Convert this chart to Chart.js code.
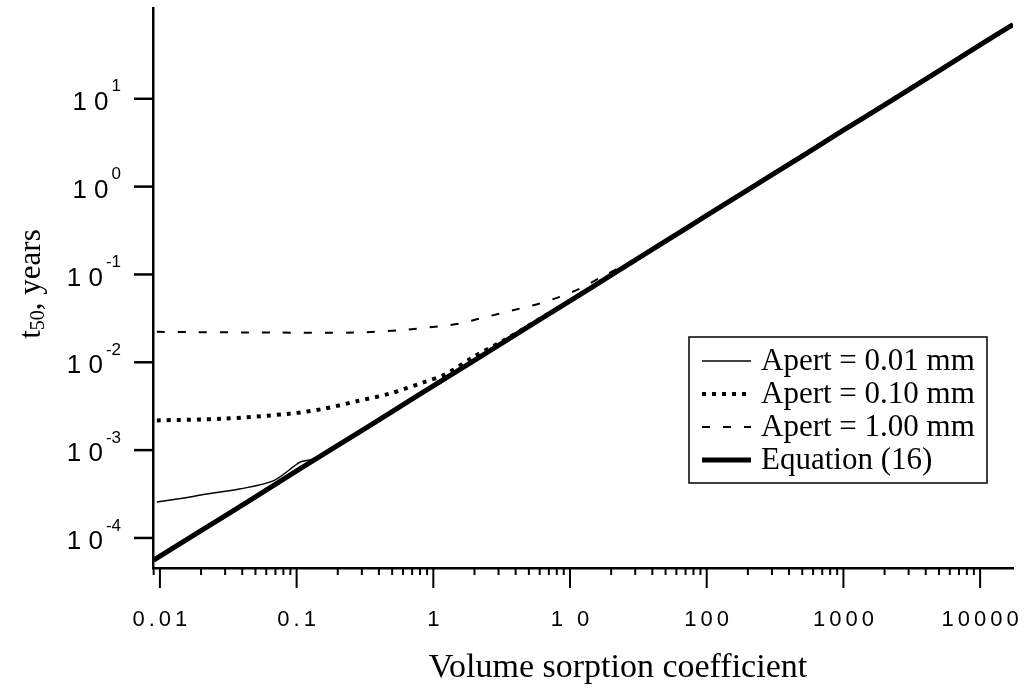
<!DOCTYPE html>
<html>
<head>
<meta charset="utf-8">
<script src="https://cdn.jsdelivr.net/npm/chart.js@4.4.0/dist/chart.umd.min.js"></script>
<style>
  html, body { margin: 0; padding: 0; background: #fff; }
  #chart { display: block; }
</style>
</head>
<body>
<canvas id="chart" width="1028" height="688"></canvas>
<script>
// values (log-log)
const eqX = [0.009, 0.02, 0.05, 0.1, 0.2, 0.5, 1, 2, 5, 10, 20, 50, 100, 200, 500, 1000, 2000, 5000, 10000, 17400];
const eqY = [5.6e-5, 1.21e-4, 2.94e-4, 5.8e-4, 1.13e-3, 2.74e-3, 5.4e-3, 0.0105, 0.0256, 0.050, 0.098, 0.239, 0.47, 0.92, 2.23, 4.4, 8.5, 20.8, 41, 70];

const apert001X = [0.0095, 0.015, 0.022, 0.038, 0.068, 0.106, 0.13, 0.2, 0.5, 1, 10, 100, 1000, 10000, 17400];
const apert001Y = [2.56e-4, 2.85e-4, 3.16e-4, 3.6e-4, 4.5e-4, 7.3e-4, 7.9e-4, 1.13e-3, 2.74e-3, 5.4e-3, 0.050, 0.47, 4.4, 41, 70];

const apert010X = [0.0095, 0.029, 0.089, 0.157, 0.275, 0.48, 0.845, 1.25, 1.96, 3.44, 5, 10, 100, 1000, 10000, 17400];
const apert010Y = [2.18e-3, 2.28e-3, 2.6e-3, 2.95e-3, 3.6e-3, 4.4e-3, 5.9e-3, 7.4e-3, 0.0115, 0.0185, 0.0262, 0.050, 0.47, 4.4, 41, 70];

const apert100X = [0.0095, 0.0675, 0.26, 0.57, 1.12, 1.57, 2.19, 3.07, 4.3, 6.0, 8.4, 11.8, 16.6, 25, 40, 100, 1000, 10000, 17400];
const apert100Y = [0.0222, 0.0218, 0.0218, 0.0232, 0.0258, 0.0276, 0.0315, 0.0359, 0.0409, 0.0467, 0.0556, 0.069, 0.0916, 0.128, 0.195, 0.47, 4.4, 41, 70];

const seriesNames = ['Apert = 0.01 mm', 'Apert = 0.10 mm', 'Apert = 1.00 mm', 'Equation (16)'];
const xTickValues = [0.01, 0.1, 1, 10, 100, 1000, 10000];
const xTickLabels = ['0.01', '0.1', '1', '1 0', '100', '1000', '10000'];
const yTickValues = [1e-4, 1e-3, 1e-2, 1e-1, 1, 10];
const yTickExponents = ['-4', '-3', '-2', '-1', '0', '1'];

const SERIF = '"Liberation Serif", "Times New Roman", serif';
const SANS = '"Liberation Sans", Arial, sans-serif';

function toPoints(xs, ys) {
  return xs.map((x, i) => ({ x: x, y: ys[i] }));
}

const decor = {
  id: 'decor',
  afterDraw(chart) {
    const ctx = chart.ctx;
    const sx = chart.scales.x;
    const sy = chart.scales.y;
    const area = chart.chartArea;
    ctx.save();
    ctx.strokeStyle = '#000';
    ctx.fillStyle = '#000';
    ctx.lineCap = 'butt';

    // x ticks, major and minor, pointing down
    ctx.lineWidth = 2;
    for (let d = -3; d <= 4; d++) {
      for (let m = 1; m <= 9; m++) {
        const v = m * Math.pow(10, d);
        if (v < sx.min || v > sx.max) continue;
        const px = sx.getPixelForValue(v);
        ctx.beginPath();
        ctx.moveTo(px, area.bottom);
        ctx.lineTo(px, area.bottom + (m === 1 ? 20 : 7));
        ctx.stroke();
      }
    }
    ctx.font = '22px ' + SANS;
    ctx.letterSpacing = '4px';
    ctx.textAlign = 'center';
    ctx.textBaseline = 'middle';
    xTickValues.forEach((v, i) => {
      ctx.fillText(xTickLabels[i], sx.getPixelForValue(v) + 2, 620);
    });
    ctx.letterSpacing = '0px';

    // y ticks pointing left, labels as 10 with superscript
    ctx.lineWidth = 2.5;
    yTickValues.forEach((v, i) => {
      const py = sy.getPixelForValue(v);
      ctx.beginPath();
      ctx.moveTo(area.left - 19, py);
      ctx.lineTo(area.left, py);
      ctx.stroke();
      ctx.textAlign = 'right';
      ctx.font = '17px ' + SANS;
      const expW = ctx.measureText(yTickExponents[i]).width;
      ctx.fillText(yTickExponents[i], 121, py - 12);
      ctx.font = '26px ' + SANS;
      ctx.fillText('1 0', 121 - expW - 3, py + 4);
    });

    // axis titles
    ctx.textAlign = 'center';
    ctx.font = '34px ' + SERIF;
    ctx.fillText('Volume sorption coefficient', 618, 668);

    ctx.save();
    ctx.translate(32, 284);
    ctx.rotate(-Math.PI / 2);
    ctx.textAlign = 'left';
    ctx.font = '31px ' + SERIF;
    const wT = ctx.measureText('t').width;
    ctx.font = '20px ' + SERIF;
    const wSub = ctx.measureText('50').width;
    ctx.font = '31px ' + SERIF;
    const wRest = ctx.measureText(', years').width;
    let tx = -(wT + wSub + wRest) / 2;
    ctx.fillText('t', tx, 0);
    tx += wT;
    ctx.font = '20px ' + SERIF;
    ctx.fillText('50', tx, 7);
    tx += wSub;
    ctx.font = '31px ' + SERIF;
    ctx.fillText(', years', tx, 0);
    ctx.restore();

    // legend box
    const box = { left: 689, top: 337, width: 298, height: 146 };
    ctx.lineWidth = 1.5;
    ctx.strokeRect(box.left, box.top, box.width, box.height);
    ctx.font = '31px ' + SERIF;
    ctx.textAlign = 'left';
    chart.data.datasets.forEach((ds, i) => {
      const ry = box.top + 24 + i * 33;
      ctx.save();
      ctx.lineWidth = ds.borderWidth;
      ctx.setLineDash(ds.borderDash || []);
      ctx.beginPath();
      ctx.moveTo(702, ry);
      ctx.lineTo(751, ry);
      ctx.stroke();
      ctx.restore();
      ctx.fillText(ds.label, 761, ry + 1);
    });
    ctx.restore();
  }
};

new Chart(document.getElementById('chart').getContext('2d'), {
  type: 'scatter',
  data: {
    datasets: [
      {
        label: seriesNames[0],
        data: toPoints(apert001X, apert001Y),
        borderColor: '#000',
        borderWidth: 1.5,
        showLine: true,
        pointRadius: 0,
        tension: 0.3
      },
      {
        label: seriesNames[1],
        data: toPoints(apert010X, apert010Y),
        borderColor: '#000',
        borderWidth: 4,
        borderDash: [4, 6],
        showLine: true,
        pointRadius: 0,
        tension: 0.3
      },
      {
        label: seriesNames[2],
        data: toPoints(apert100X, apert100Y),
        borderColor: '#000',
        borderWidth: 2,
        borderDash: [8, 13],
        showLine: true,
        pointRadius: 0,
        tension: 0.3
      },
      {
        label: seriesNames[3],
        data: toPoints(eqX, eqY),
        borderColor: '#000',
        borderWidth: 5,
        showLine: true,
        pointRadius: 0,
        tension: 0.2
      }
    ]
  },
  options: {
    responsive: false,
    animation: false,
    devicePixelRatio: 1,
    layout: {
      padding: { top: 8, right: 15, left: 0, bottom: 0 }
    },
    scales: {
      x: {
        type: 'logarithmic',
        min: 0.0089,
        max: 17400,
        grid: { display: false },
        ticks: { display: false },
        border: { display: true, color: '#000', width: 2.5 },
        afterFit: (s) => { s.height = 120; }
      },
      y: {
        type: 'logarithmic',
        min: 4.55e-5,
        max: 108,
        grid: { display: false },
        ticks: { display: false },
        border: { display: true, color: '#000', width: 2.5 },
        afterFit: (s) => { s.width = 153; }
      }
    },
    plugins: {
      legend: { display: false },
      tooltip: { enabled: false }
    }
  },
  plugins: [decor]
});
</script>
</body>
</html>
